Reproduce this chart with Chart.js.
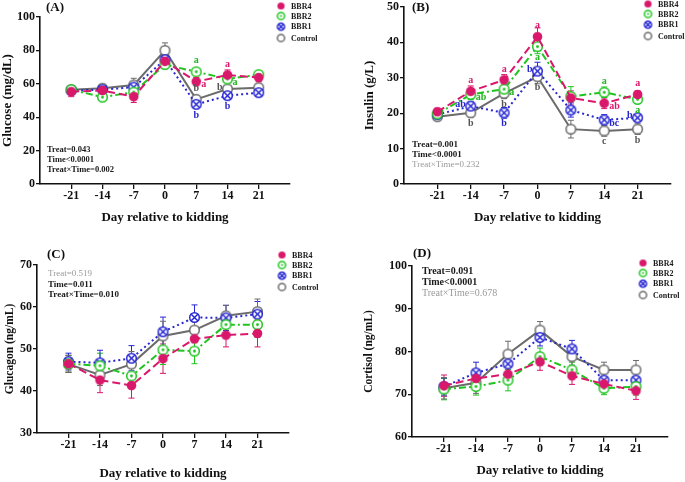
<!DOCTYPE html>
<html>
<head>
<meta charset="utf-8">
<script src="https://cdn.jsdelivr.net/npm/chart.js@4.4.1/dist/chart.umd.min.js"></script>
<style>
  html, body { margin: 0; padding: 0; background: #fff; }
  #wrap { position: relative; width: 685px; height: 482px; overflow: hidden; }
  .panel { position: absolute; }
</style>
</head>
<body>
<div id="wrap">
  <canvas class="panel" id="chartA" width="342" height="240" style="left:0;top:0"></canvas>
  <canvas class="panel" id="chartB" width="343" height="240" style="left:342px;top:0"></canvas>
  <canvas class="panel" id="chartC" width="342" height="242" style="left:0;top:240px"></canvas>
  <canvas class="panel" id="chartD" width="343" height="242" style="left:342px;top:240px"></canvas>
</div>
<script>
const days = [-21, -14, -7, 0, 7, 14, 21];
const seriesNames = ["BBR4", "BBR2", "BBR1", "Control"];

// (A) glucose, mg/dL
const glucoseBBR4 = [55.3, 56, 52.3, 73.5, 61.3, 65.3, 63.7];
const glucoseBBR2 = [56.5, 52, 55, 71.5, 67.2, 62.9, 65.5];
const glucoseBBR1 = [56, 56.5, 58, 74.5, 47.7, 52.9, 54.7];
const glucoseControl = [56.5, 57.3, 59.3, 80, 50.7, 56.9, 57.7];
const glucoseBBR4Se = [3, 2.5, 3.5, 3, 2.5, 3, 2.5];
const glucoseBBR2Se = [2, 2, 2, 2.5, 2, 2, 1.5];
const glucoseBBR1Se = [2.5, 2.5, 2.5, 2.5, 2, 2, 2];
const glucoseControlSe = [2.5, 2.5, 4, 4.5, 2.5, 2, 2];
const glucoseLetters = [
  [7, 1, "a", "above"], [7, 0, "a", "right"], [7, 3, "b", "above"], [7, 2, "b", "below"],
  [14, 0, "a", "above"], [14, 3, "b", "left"], [14, 1, "a", "right"], [14, 2, "b", "below"]
];
const glucoseStats = ["Treat=0.043", "Time<0.0001", "Treat×Time=0.002"];

// (B) insulin, g/L
const insulinBBR4 = [20.4, 26.2, 29.4, 41.6, 24.3, 22.8, 25.3];
const insulinBBR2 = [19.8, 25.3, 26.8, 38.8, 24.7, 25.9, 23.9];
const insulinBBR1 = [19.6, 22, 20.1, 31.9, 20.9, 18.1, 18.7];
const insulinControl = [19, 20.1, 25.6, 30.3, 15.5, 15, 15.5];
const insulinBBR4Se = [1, 1.5, 1.5, 2.5, 2, 1.5, 1];
const insulinBBR2Se = [1, 1.5, 1.5, 2, 2.8, 1.5, 1];
const insulinBBR1Se = [1, 1.2, 1.5, 2.5, 2, 1.5, 1];
const insulinControlSe = [1, 1.2, 1.5, 2, 2.5, 1.5, 1.5];
const insulinLetters = [
  [-14, 0, "a", "above"], [-14, 2, "ab", "left"], [-14, 1, "ab", "right"], [-14, 3, "b", "below"],
  [-7, 0, "a", "above"], [-7, 1, "a", "right"], [-7, 3, "b", "below"], [-7, 2, "b", "below"],
  [0, 0, "a", "above"], [0, 1, "a", "below"], [0, 2, "b", "left"], [0, 3, "b", "below"],
  [14, 1, "a", "above"], [14, 0, "ab", "right"], [14, 2, "bc", "right"], [14, 3, "c", "below"],
  [21, 0, "a", "above"], [21, 1, "a", "below"], [21, 2, "b", "left"], [21, 3, "b", "below"]
];
const insulinStats = ["Treat=0.001", "Time<0.0001", "Treat×Time=0.232"];

// (C) glucagon, ng/mL
const glucagonBBR4 = [46.5, 42.6, 41.3, 47.7, 52.4, 53.3, 53.7];
const glucagonBBR2 = [46.5, 46, 43.6, 49.8, 49.5, 55.8, 55.8];
const glucagonBBR1 = [47, 46.7, 47.8, 54.1, 57.5, 57.4, 58.3];
const glucagonControl = [46.4, 43.8, 46.4, 53.1, 54.5, 57.9, 58.9];
const glucagonBBR4Se = [2, 3, 3, 3.5, 3, 2.8, 3.2];
const glucagonBBR2Se = [2, 3, 3, 3.5, 3, 3, 3];
const glucagonBBR1Se = [2, 3, 3, 3.5, 3, 3, 3];
const glucagonControlSe = [2, 2.5, 3, 3.5, 3, 2.5, 3];
const glucagonLetters = [];
const glucagonStats = ["Treat=0.519", "Time=0.011", "Treat×Time=0.010"];

// (D) cortisol, ng/mL
const cortisolBBR4 = [72, 73.7, 74.7, 77.6, 74.3, 72.4, 70.8];
const cortisolBBR2 = [71.2, 71.8, 73.3, 78.8, 75.7, 71.4, 71.8];
const cortisolBBR1 = [71.8, 75, 77.1, 83.3, 80.6, 73.3, 73.3];
const cortisolControl = [71.4, 72.7, 79.4, 85, 78.8, 75.7, 75.7];
const cortisolBBR4Se = [2.5, 2, 2, 2, 2, 1.5, 2];
const cortisolBBR2Se = [2.5, 2, 2.5, 2, 1.8, 1.5, 2];
const cortisolBBR1Se = [2, 2.5, 2, 2, 2, 1.8, 2];
const cortisolControlSe = [2.5, 2.5, 3, 2, 2, 1.8, 2.2];
const cortisolLetters = [];
const cortisolStats = ["Treat=0.091", "Time<0.0001", "Treat×Time=0.678"];

const serif = "'Liberation Serif', 'DejaVu Serif', serif";
const colors = ["#d9186b", "#1fc41f", "#2626d4", "#6b6b6b"];
const letterColors = ["#d9186b", "#1fb51f", "#2626c8", "#555555"];
const dashes = [[8, 4], [7, 3, 2, 3], [2, 3], []];

Chart.defaults.font.family = serif;
Chart.defaults.color = "#111";

function marker(k, r) {
  const s = Math.ceil(r * 2 + 3);
  const c = document.createElement("canvas");
  c.width = s; c.height = s;
  const g = c.getContext("2d");
  const m = s / 2;
  g.lineWidth = 1.5;
  g.beginPath();
  g.arc(m, m, r, 0, Math.PI * 2);
  if (k === 0) {
    g.fillStyle = colors[0];
    g.fill();
  } else {
    g.fillStyle = "#fff";
    g.fill();
    g.strokeStyle = colors[k];
    g.stroke();
  }
  if (k === 1) {
    g.beginPath();
    g.arc(m, m, r * 0.3, 0, Math.PI * 2);
    g.fillStyle = colors[1];
    g.fill();
  }
  if (k === 2) {
    const d = r * 0.68;
    g.beginPath();
    g.moveTo(m - d, m - d); g.lineTo(m + d, m + d);
    g.moveTo(m + d, m - d); g.lineTo(m - d, m + d);
    g.stroke();
  }
  return c;
}
const pointMarkers = [0, 1, 2, 3].map(k => marker(k, 4.8));
const legendMarkers = [0, 1, 2, 3].map(k => marker(k, 3.6));

const errorBars = {
  id: "errorBars",
  beforeDatasetsDraw(chart) {
    const ctx = chart.ctx, y = chart.scales.y;
    chart.data.datasets.forEach((ds, k) => {
      const meta = chart.getDatasetMeta(k);
      ctx.save();
      ctx.strokeStyle = ds.borderColor;
      ctx.lineWidth = 1;
      meta.data.forEach((pt, i) => {
        const v = ds.data[i].y, e = ds.se[i];
        const top = y.getPixelForValue(v + e), bot = y.getPixelForValue(v - e);
        ctx.beginPath();
        ctx.moveTo(pt.x, top); ctx.lineTo(pt.x, bot);
        ctx.moveTo(pt.x - 3, top); ctx.lineTo(pt.x + 3, top);
        ctx.moveTo(pt.x - 3, bot); ctx.lineTo(pt.x + 3, bot);
        ctx.stroke();
      });
      ctx.restore();
    });
  }
};

const decorations = {
  id: "decorations",
  afterDraw(chart, args, o) {
    const ctx = chart.ctx;
    ctx.save();
    // significance letters
    ctx.font = "bold 10px " + serif;
    ctx.textBaseline = "middle";
    o.letters.forEach(([day, k, t, side]) => {
      const i = days.indexOf(day);
      const pt = chart.getDatasetMeta(k).data[i];
      ctx.fillStyle = letterColors[k];
      let x = pt.x, yy = pt.y;
      ctx.textAlign = "center";
      if (side === "above") yy -= 11;
      if (side === "below") yy += 11;
      if (side === "right") { ctx.textAlign = "left"; x += 5; yy += 3; }
      if (side === "left") { ctx.textAlign = "right"; x -= 5; yy -= 2; }
      ctx.fillText(t, x, yy);
    });
    // panel label
    ctx.textAlign = "left";
    ctx.fillStyle = "#111";
    ctx.font = "bold 13px " + serif;
    ctx.fillText(o.label, o.labelX, o.labelY);
    // statistics: p above 0.1 shown in light grey
    o.stats.forEach((s, j) => {
      const p = parseFloat(s.split(/[=<]/).pop());
      const strong = p < 0.1;
      ctx.font = (strong ? "bold " : "") + o.statSize + "px " + serif;
      ctx.fillStyle = strong ? "#1a1a1a" : "#9a9a9a";
      ctx.fillText(s, o.statX, o.statY + j * o.statGap);
    });
    // legend
    ctx.font = "bold 8px " + serif;
    ctx.fillStyle = "#1a1a1a";
    [0, 10, 20.7, 32].forEach((dy, k) => {
      const m = legendMarkers[k];
      const yy = o.legY + dy;
      ctx.drawImage(m, o.legX - m.width / 2, yy - m.height / 2);
      ctx.fillText(seriesNames[k], o.legX + 10, yy + 0.5);
    });
    ctx.restore();
  }
};

function panel(id, p) {
  const datasets = p.series.map((vals, k) => ({
    label: seriesNames[k],
    data: days.map((d, i) => ({ x: d, y: vals[i] })),
    se: p.se[k],
    borderColor: colors[k],
    backgroundColor: colors[k],
    borderWidth: 2,
    borderDash: dashes[k],
    pointStyle: pointMarkers[k],
    pointRadius: 5,
    tension: 0,
    fill: false
  }));
  return new Chart(document.getElementById(id), {
    type: "line",
    data: { datasets },
    plugins: [errorBars, decorations],
    options: {
      responsive: false,
      animation: false,
      layout: { padding: { left: 0, top: p.top, right: p.right, bottom: 0 } },
      plugins: {
        legend: { display: false },
        tooltip: { enabled: false },
        decorations: p.deco
      },
      scales: {
        x: {
          type: "linear",
          min: -28,
          max: 28,
          afterBuildTicks: s => { s.ticks = days.map(v => ({ value: v })); },
          afterFit: s => { s.height = p.xHeight; s.paddingLeft = 0; s.paddingRight = 0; },
          grid: { display: true, drawOnChartArea: false, drawTicks: true, tickLength: 5, color: "#111", lineWidth: 1.3 },
          border: { display: true, color: "#111", width: 1.6 },
          ticks: { font: { size: 12, weight: "bold" }, color: "#111", padding: 0, maxRotation: 0 },
          title: { display: true, text: "Day relative to kidding", font: { size: 13, weight: "bold" }, color: "#111", padding: { top: 0, bottom: p.xTitlePad } }
        },
        y: {
          min: p.yMin,
          max: p.yMax,
          ticks: { stepSize: p.yStep, font: { size: 12, weight: "bold" }, color: "#111", padding: 1 },
          afterFit: s => { s.width = p.yWidth; s.paddingTop = 0; s.paddingBottom = 0; },
          grid: { display: true, drawOnChartArea: false, drawTicks: true, tickLength: 4, color: "#111", lineWidth: 1.3 },
          border: { display: true, color: "#111", width: 1.6 },
          title: { display: true, text: p.yTitle, font: { size: p.yTitleSize, weight: "bold" }, color: "#111", padding: { top: p.yTitlePad, bottom: 0 } }
        }
      }
    }
  });
}

panel("chartA", {
  series: [glucoseBBR4, glucoseBBR2, glucoseBBR1, glucoseControl],
  se: [glucoseBBR4Se, glucoseBBR2Se, glucoseBBR1Se, glucoseControlSe],
  yMin: 0, yMax: 100, yStep: 20, yTitle: "Glucose (mg/dL)", yTitleSize: 13, yTitlePad: 0,
  top: 17, right: 52, yWidth: 40, xHeight: 56, xTitlePad: 15,
  deco: { letters: glucoseLetters, label: "(A)", labelX: 46, labelY: 8, stats: glucoseStats,
          statX: 47, statY: 150, statGap: 10, statSize: 8.5, legX: 281, legY: 6 }
});

panel("chartB", {
  series: [insulinBBR4, insulinBBR2, insulinBBR1, insulinControl],
  se: [insulinBBR4Se, insulinBBR2Se, insulinBBR1Se, insulinControlSe],
  yMin: 0, yMax: 50, yStep: 10, yTitle: "Insulin (g/L)", yTitleSize: 13, yTitlePad: 20,
  top: 7, right: 14, yWidth: 62, xHeight: 56, xTitlePad: 15,
  deco: { letters: insulinLetters, label: "(B)", labelX: 70, labelY: 8, stats: insulinStats,
          statX: 70, statY: 145, statGap: 10, statSize: 9, legX: 306, legY: 4 }
});

panel("chartC", {
  series: [glucagonBBR4, glucagonBBR2, glucagonBBR1, glucagonControl],
  se: [glucagonBBR4Se, glucagonBBR2Se, glucagonBBR1Se, glucagonControlSe],
  yMin: 30, yMax: 70, yStep: 10, yTitle: "Glucagon (ng/mL)", yTitleSize: 11.5, yTitlePad: 3,
  top: 25, right: 53, yWidth: 37, xHeight: 49, xTitlePad: 1,
  deco: { letters: glucagonLetters, label: "(C)", labelX: 47, labelY: 15, stats: glucagonStats,
          statX: 48, statY: 34, statGap: 10.5, statSize: 9, legX: 282, legY: 15 }
});

panel("chartD", {
  series: [cortisolBBR4, cortisolBBR2, cortisolBBR1, cortisolControl],
  se: [cortisolBBR4Se, cortisolBBR2Se, cortisolBBR1Se, cortisolControlSe],
  yMin: 60, yMax: 100, yStep: 10, yTitle: "Cortisol (ng/mL)", yTitleSize: 11.5, yTitlePad: 20,
  top: 26, right: 17, yWidth: 70, xHeight: 45, xTitlePad: 4,
  deco: { letters: cortisolLetters, label: "(D)", labelX: 71, labelY: 14, stats: cortisolStats,
          statX: 80, statY: 31, statGap: 11, statSize: 10, legX: 301, legY: 23 }
});
</script>
</body>
</html>
